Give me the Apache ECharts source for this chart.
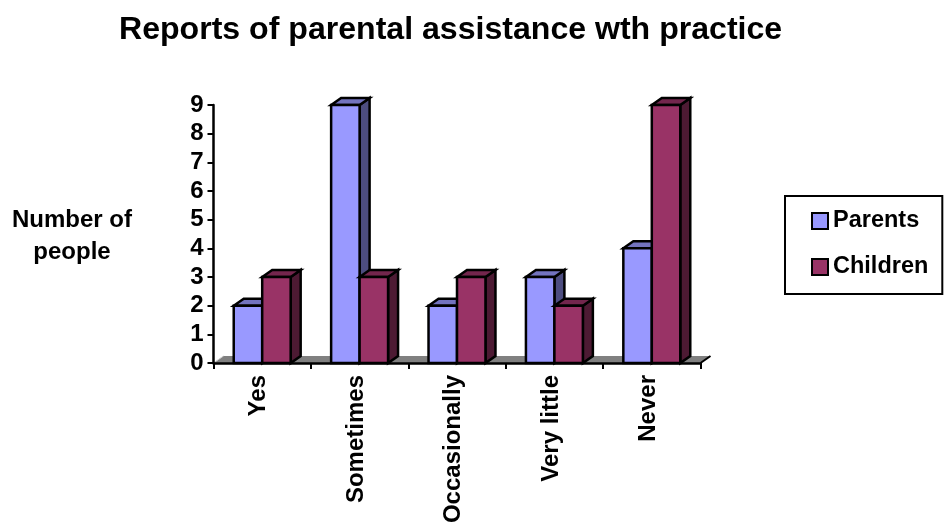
<!DOCTYPE html>
<html>
<head>
<meta charset="utf-8">
<style>html,body{margin:0;padding:0;background:#fff}#c{width:944px;height:522px}</style>
<script src="https://cdn.jsdelivr.net/npm/echarts@6/dist/echarts.min.js"></script>
</head>
<body>
<div id="c"></div>
<script>
const categories = ['Yes', 'Sometimes', 'Occasionally', 'Very little', 'Never'];
const parents = [2, 9, 2, 3, 4];
const children = [3, 3, 3, 2, 9];
const yTicks = [0, 1, 2, 3, 4, 5, 6, 7, 8, 9];

const FONT = '"Liberation Sans", Arial, sans-serif';
const DX = 10, DY = 7;
const BAR_FRAC = 0.2923;

function barRenderer(colors, side) {
  return function (params, api) {
    const bw = api.size([1, 0])[0] * BAR_FRAC;
    const base = api.coord([api.value(0), 0]);
    const top = api.coord([api.value(0), api.value(1)]);
    const x0 = side < 0 ? base[0] - bw : base[0];
    const x1 = x0 + bw;
    const y0 = top[1], y1 = base[1];
    const st = { stroke: '#000', lineWidth: 2.5, lineJoin: 'miter' };
    const poly = (points, fill) => ({
      type: 'polygon', shape: { points },
      style: Object.assign({ fill }, st)
    });
    return {
      type: 'group',
      children: [
        poly([[x1, y0], [x1 + DX, y0 - DY], [x1 + DX, y1 - DY], [x1, y1]], colors[2]),
        poly([[x0, y0], [x0 + DX, y0 - DY], [x1 + DX, y0 - DY], [x1, y0]], colors[1]),
        poly([[x0, y0], [x1, y0], [x1, y1], [x0, y1]], colors[0])
      ]
    };
  };
}

const chart = echarts.init(document.getElementById('c'), null, { renderer: 'canvas' });
chart.setOption({
  animation: false,
  backgroundColor: '#fff',
  title: [
    {
      text: 'Reports of parental assistance wth practice',
      left: 114, top: 9,
      textStyle: { fontFamily: FONT, fontWeight: 'bold', fontSize: 32.1, color: '#000' }
    },
    {
      text: 'Number of\npeople',
      left: 67, top: 199, textAlign: 'center',
      textStyle: { fontFamily: FONT, fontWeight: 'bold', fontSize: 24, color: '#000', lineHeight: 32, align: 'center' }
    }
  ],
  legend: {
    left: 785, top: 196,
    orient: 'vertical',
    align: 'left',
    padding: [13, 14, 15, 26],
    itemGap: 22, itemWidth: 16, itemHeight: 16,
    borderColor: '#000', borderWidth: 2,
    backgroundColor: '#fff',
    data: [
      { name: 'Parents', icon: 'rect', itemStyle: { color: '#9999FF', borderColor: '#000', borderWidth: 2 } },
      { name: 'Children', icon: 'rect', itemStyle: { color: '#993366', borderColor: '#000', borderWidth: 2 } }
    ],
    textStyle: { fontFamily: FONT, fontWeight: 'bold', fontSize: 23.5, color: '#000' }
  },
  grid: { left: 213.5, top: 105, width: 487, height: 258, outerBoundsMode: 'none' },
  xAxis: {
    type: 'category',
    data: categories,
    boundaryGap: true,
    z: 5,
    axisLine: { lineStyle: { color: '#000', width: 2.5 } },
    axisTick: { show: true, alignWithLabel: false, length: 6, lineStyle: { color: '#000', width: 2 } },
    axisLabel: { rotate: 90, interval: 0, margin: 12, verticalAlign: 'bottom', padding: [0, 0, -8.5, 0], fontFamily: FONT, fontWeight: 'bold', fontSize: 24, color: '#000' }
  },
  yAxis: {
    type: 'value',
    min: yTicks[0], max: yTicks[yTicks.length - 1], interval: 1,
    z: 5,
    splitLine: { show: false },
    axisLine: { show: true, lineStyle: { color: '#000', width: 2.5 } },
    axisTick: { show: true, length: 6, lineStyle: { color: '#000', width: 2 } },
    axisLabel: { margin: 10, fontFamily: FONT, fontWeight: 'bold', fontSize: 24, color: '#000' }
  },
  series: [
    {
      type: 'custom', name: 'floor', silent: true, clip: false, z: 1,
      coordinateSystem: 'cartesian2d',
      data: [[0, 0]],
      encode: { x: 0, y: 1 },
      renderItem(params, api) {
        const g = params.coordSys;
        const yb = g.y + g.height, xl = g.x, xr = g.x + g.width;
        return {
          type: 'group',
          children: [
            { type: 'polygon', shape: { points: [[xl, yb], [xl + DX, yb - DY], [xr + DX, yb - DY], [xr, yb]] }, style: { fill: '#808080', stroke: null } },
            { type: 'line', shape: { x1: xr, y1: yb, x2: xr + DX, y2: yb - DY }, style: { stroke: '#000', lineWidth: 2 } },
            { type: 'line', shape: { x1: xl, y1: yb, x2: xl + DX, y2: yb - DY }, style: { stroke: '#ccc', lineWidth: 1 } }
          ]
        };
      }
    },
    {
      type: 'custom', name: 'Parents', clip: false, z: 2,
      itemStyle: { color: '#9999FF' },
      data: parents.map((v, i) => [i, v]),
      encode: { x: 0, y: 1 },
      renderItem: barRenderer(['#9999FF', '#7373BF', '#4D4D80'], -1)
    },
    {
      type: 'custom', name: 'Children', clip: false, z: 3,
      itemStyle: { color: '#993366' },
      data: children.map((v, i) => [i, v]),
      encode: { x: 0, y: 1 },
      renderItem: barRenderer(['#993366', '#73264D', '#4D1A33'], 1)
    }
  ]
});
</script>
</body>
</html>
